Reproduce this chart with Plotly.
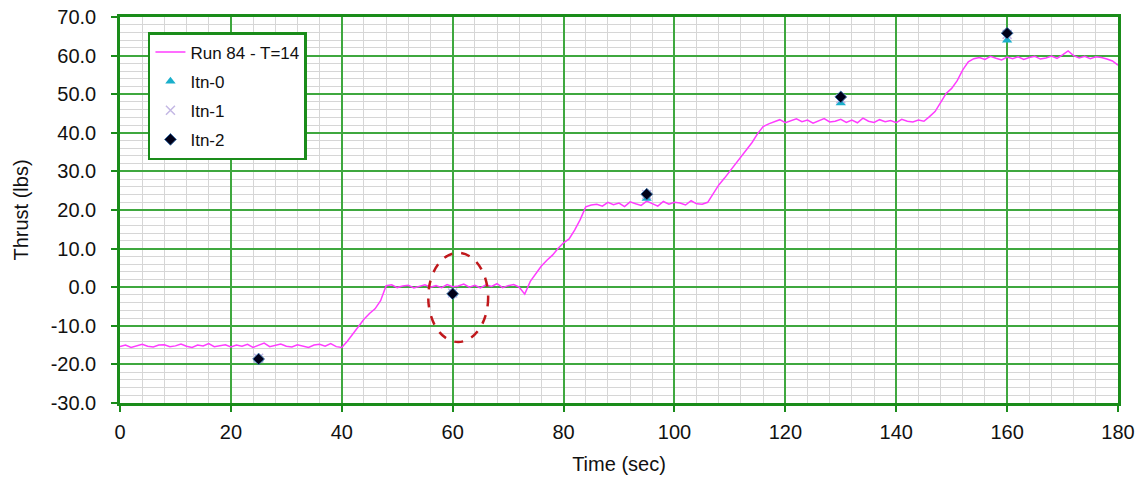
import plotly.graph_objects as go

# ---- data ----
run_time = list(range(0, 181))
run_thrust = [
    -15.4, -15.0, -15.6, -15.1, -14.8, -15.3, -15.5, -15.0, -14.9, -15.4,
    -15.2, -14.7, -15.3, -15.6, -15.0, -15.2, -14.6, -15.4, -15.1, -14.9,
    -15.5, -15.0, -15.3, -14.8, -15.6, -15.1, -14.5, -15.4, -15.0, -14.7,
    -15.3, -15.5, -14.9, -15.2, -15.6, -15.0, -14.8, -15.3, -14.6, -15.4,
    -15.6, -14.0, -12.0, -10.0, -8.3, -6.8, -5.6, -3.5, 0.4, 0.6,
    -0.1, 0.3, 0.5, -0.2, 0.2, 0.6, 0.0, 0.4, -0.1, 0.7,
    0.1, 0.3, 0.8, 0.0, 0.5, -0.2, 0.6, 0.2, 0.9, -0.1,
    0.4, 0.7, 0.0,
    -1.8, 1.5, 3.6, 5.5, 7.0, 8.3, 10.0, 11.5, 12.5, 14.8, 17.5, 20.8, 21.3,
    21.5, 21.0, 22.0, 21.4, 21.8, 20.9, 22.1, 21.6, 21.2, 22.3,
    21.7, 21.0, 22.2, 21.5, 22.0, 21.8, 21.3, 22.4, 21.6,
    21.5, 22.0, 24.3, 26.5, 28.2, 30.0, 31.8, 33.8, 35.5, 37.5, 39.8, 41.6, 42.3,
    42.8, 43.4, 42.6, 43.1, 43.6, 42.9, 43.3, 42.5, 43.2, 43.7,
    42.8, 43.0, 43.5, 42.7, 43.3, 42.6, 43.8, 43.0, 42.7, 43.4,
    42.9, 43.2, 42.6, 43.5, 43.0, 42.8, 43.3,
    43.0, 44.2, 45.5, 47.8, 50.2, 51.5, 53.5, 56.3, 58.4, 59.2,
    59.5, 59.0, 59.8, 59.3, 58.9, 59.6, 59.2, 59.7, 59.0, 59.5,
    59.8, 59.1, 59.4, 59.9, 59.3, 60.2, 61.2, 60.0, 59.4, 59.8,
    59.2, 59.7, 59.5, 59.1, 58.6, 57.5,
]
itn_time = [25, 60, 95, 130, 160]
itn0 = [-18.6, -1.7, 23.0, 47.7, 64.0]
itn1 = [-18.4, -1.5, 24.0, 48.8, 65.5]
itn2 = [-18.6, -1.7, 24.1, 49.3, 65.8]

x_ticks = [0, 20, 40, 60, 80, 100, 120, 140, 160, 180]
y_ticks = [-30, -20, -10, 0, 10, 20, 30, 40, 50, 60, 70]
y_ticktext = ["-30.0", "-20.0", "-10.0", "0.0", "10.0", "20.0", "30.0",
              "40.0", "50.0", "60.0", "70.0"]

# highlight ellipse (data coordinates)
ellipse_x = [55.6, 66.4]
ellipse_y = [-14.2, 8.9]

GREEN_GRID = "#3FA83F"
GREEN_AXIS = "#1A8C1A"
FONT = "Liberation Sans, Arial, sans-serif"

fig = go.Figure()
fig.add_trace(go.Scatter(x=run_time, y=run_thrust, mode="lines",
                         name="Run 84 - T=14", legendgroup="a",
                         line=dict(color="#FF3CFF", width=1.5)))
fig.add_trace(go.Scatter(x=itn_time, y=itn0, mode="markers", name="Itn-0",
                         legendgroup="b",
                         marker=dict(symbol="triangle-up", size=9, color="#1AAFCB")))
fig.add_trace(go.Scatter(x=itn_time, y=itn1, mode="markers", name="Itn-1",
                         legendgroup="c",
                         marker=dict(symbol="x-thin", size=9,
                                     line=dict(color="#C4B8E4", width=1.5))))
fig.add_trace(go.Scatter(x=itn_time, y=itn2, mode="markers", name="Itn-2",
                         legendgroup="d",
                         marker=dict(symbol="diamond", size=9, color="#000018",
                                     line=dict(color="#3A6EA8", width=1))))

fig.add_shape(type="circle", xref="x", yref="y",
              x0=ellipse_x[0], x1=ellipse_x[1], y0=ellipse_y[0], y1=ellipse_y[1],
              line=dict(color="#C0181C", width=2.5, dash="dash"))

axis_common = dict(
    showline=True, linecolor=GREEN_AXIS, linewidth=2.5, mirror=True,
    ticks="outside", tickcolor=GREEN_AXIS, ticklen=6, tickwidth=2,
    showgrid=True, gridcolor=GREEN_GRID, gridwidth=1.5,
    zeroline=False, automargin=False,
    tickfont=dict(family=FONT, size=20, color="#111"),
)

fig.update_xaxes(**axis_common, range=[0, 180], tickvals=x_ticks,
                 ticklabelstandoff=3,
                 minor=dict(dtick=4, showgrid=True, gridcolor="#D6D6D6", gridwidth=1),
                 title=dict(text="Time (sec)", font=dict(family=FONT, size=20, color="#111"),
                            standoff=16))
fig.update_yaxes(**axis_common, range=[-30, 70], tickvals=y_ticks, ticktext=y_ticktext,
                 ticklabelstandoff=11, ticklabeloverflow="allow",
                 minor=dict(dtick=2, showgrid=True, gridcolor="#D6D6D6", gridwidth=1),
                 title=dict(text="Thrust (lbs)", font=dict(family=FONT, size=20, color="#111"),
                            standoff=17))

fig.update_layout(
    width=1148, height=485,
    margin=dict(l=120, r=30, t=17, b=82),
    plot_bgcolor="white", paper_bgcolor="white",
    legend=dict(x=0.028, y=0.961, xanchor="left", yanchor="top",
                bgcolor="white", bordercolor=GREEN_AXIS, borderwidth=2.5,
                font=dict(family=FONT, size=17, color="#111"),
                traceorder="grouped", tracegroupgap=4),
    font=dict(family=FONT),
)

# remove the browser's default page margin so the figure sits at the window origin
fig.write_html("out.html", config={"displayModeBar": False},
               post_script="document.body.style.margin='0';")
